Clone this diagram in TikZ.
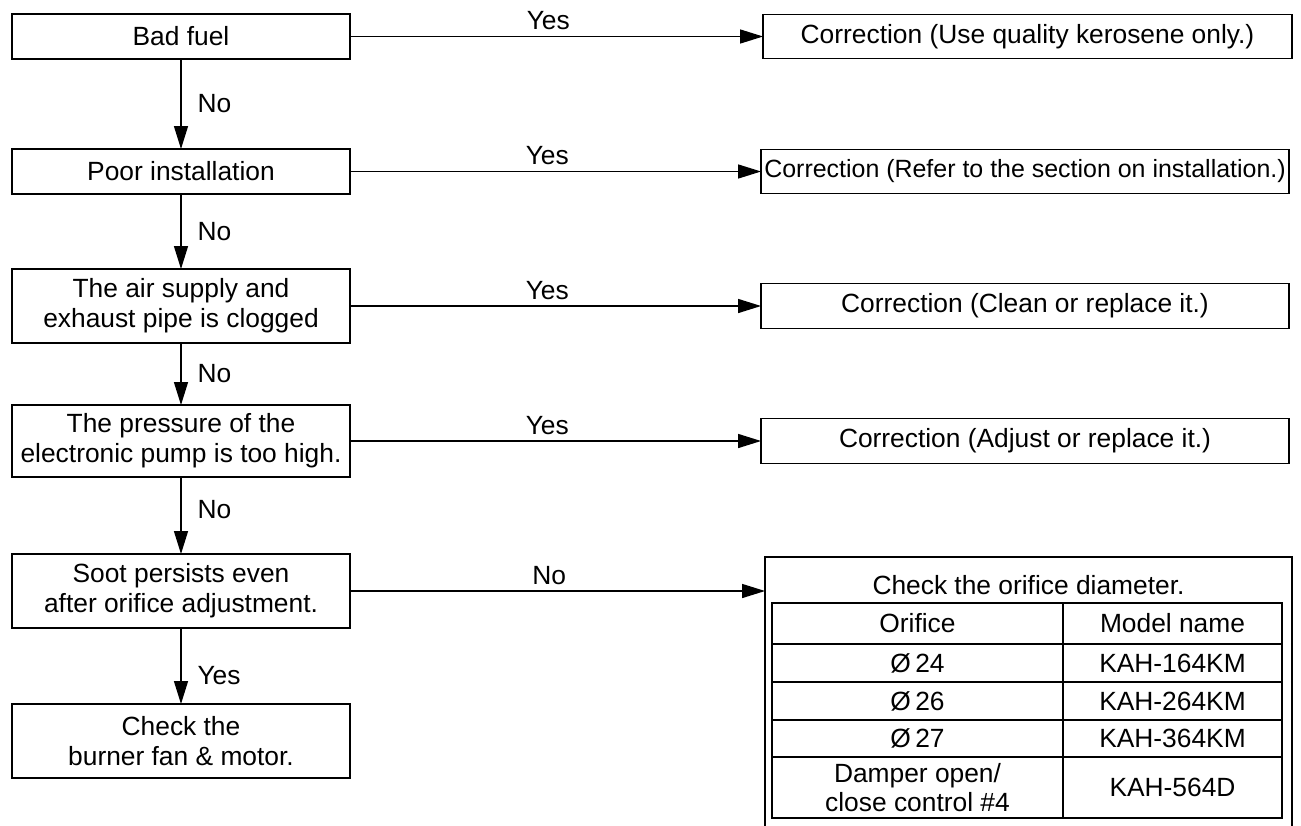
\documentclass[tikz,border=0pt]{standalone}
\usepackage{fontspec}
\setmainfont{Liberation Sans}
\usetikzlibrary{arrows.meta, positioning}

\tikzset{
	box/.style={draw, align=center, inner sep=0pt, outer sep=0pt, minimum width=6.76cm},
	fix/.style={draw, align=center, inner sep=0pt, outer sep=0pt, minimum width=10.56cm, minimum height=0.89cm},
	cell/.style={draw, align=center, inner sep=0pt, outer sep=0pt},
	lbl/.style={right=0.2cm}
}

\begin{document}
\begin{tikzpicture}[x=0.02cm, y=-0.02cm, >={Triangle[length=4.6mm,width=2.8mm]}, line width=0.8pt, font=\fontsize{15}{17}\selectfont]
		\useasboundingbox (0,0) rectangle (1301,825);

		\node[box, minimum height=0.9cm] (fuel) at (181,36.5) {Bad fuel};
		\node[box, minimum height=0.9cm] (inst) at (181,171.5) {Poor installation};
		\node[box, minimum height=1.48cm] (pipe) at (181,306) {The air supply and\\exhaust pipe is clogged};
		\node[box, minimum height=1.44cm] (pump) at (181,441) {The pressure of the\\electronic pump is too high.};
		\node[box, minimum height=1.48cm] (soot) at (181,591) {Soot persists even\\after orifice adjustment.};
		\node[box, minimum height=1.48cm] (fan) at (181,741) {Check the\\burner fan \& motor.};

		\node[fix, minimum width=10.58cm] (fix1) at (1027.5,36.5) {Correction (Use quality kerosene only.)};
		\node[fix, font=\fontsize{14.2}{17}\selectfont] (fix2) at (1025,171.5) {Correction (Refer to the section on installation.)};
		\node[fix] (fix3) at (1025,306) {Correction (Clean or replace it.)};
		\node[fix] (fix4) at (1025,441) {Correction (Adjust or replace it.)};

		% orifice table
		\node[cell, minimum width=10.54cm, minimum height=5.56cm] (check) at (1028.5,696) {};
		\node (title) at (1028.5,585) {Check the orifice diameter.};
		\node[cell, minimum width=5.82cm, minimum height=0.82cm] (hor) at (917.5,623.5) {Orifice};
		\node[cell, minimum width=4.38cm, minimum height=0.82cm] (hmod) at (1172.5,623.5) {Model name};
		\node[cell, minimum width=5.82cm, minimum height=0.76cm] (o24) at (917.5,663) {Ø\,24};
		\node[cell, minimum width=4.38cm, minimum height=0.76cm] (m24) at (1172.5,663) {KAH-164KM};
		\node[cell, minimum width=5.82cm, minimum height=0.76cm] (o26) at (917.5,701) {Ø\,26};
		\node[cell, minimum width=4.38cm, minimum height=0.76cm] (m26) at (1172.5,701) {KAH-264KM};
		\node[cell, minimum width=5.82cm, minimum height=0.74cm] (o27) at (917.5,738.5) {Ø\,27};
		\node[cell, minimum width=4.38cm, minimum height=0.74cm] (m27) at (1172.5,738.5) {KAH-364KM};
		\node[cell, minimum width=5.82cm, minimum height=1.22cm] (odmp) at (917.5,787.5) {Damper open/\\close control \#4};
		\node[cell, minimum width=4.38cm, minimum height=1.22cm] (mdmp) at (1172.5,787.5) {KAH-564D};

		\draw[->]	(fuel) edge[above, pos=.48] node{Yes} (fix1)
				(inst) edge[above, pos=.48] node{Yes} (fix2)
				(pipe) edge[above, pos=.48] node{Yes} (fix3)
				(pump) edge[above, pos=.48] node{Yes} (fix4)
				(soot) edge[above, pos=.48] node{No} (soot -| check.west)
				(fuel) edge node[lbl]{No} (inst)
				(inst) edge node[lbl]{No} (pipe)
				(pipe) edge node[lbl]{No} (pump)
				(pump) edge node[lbl, pos=.42]{No} (soot)
				(soot) edge node[lbl, pos=.62]{Yes} (fan);
	\end{tikzpicture}
\end{document}
